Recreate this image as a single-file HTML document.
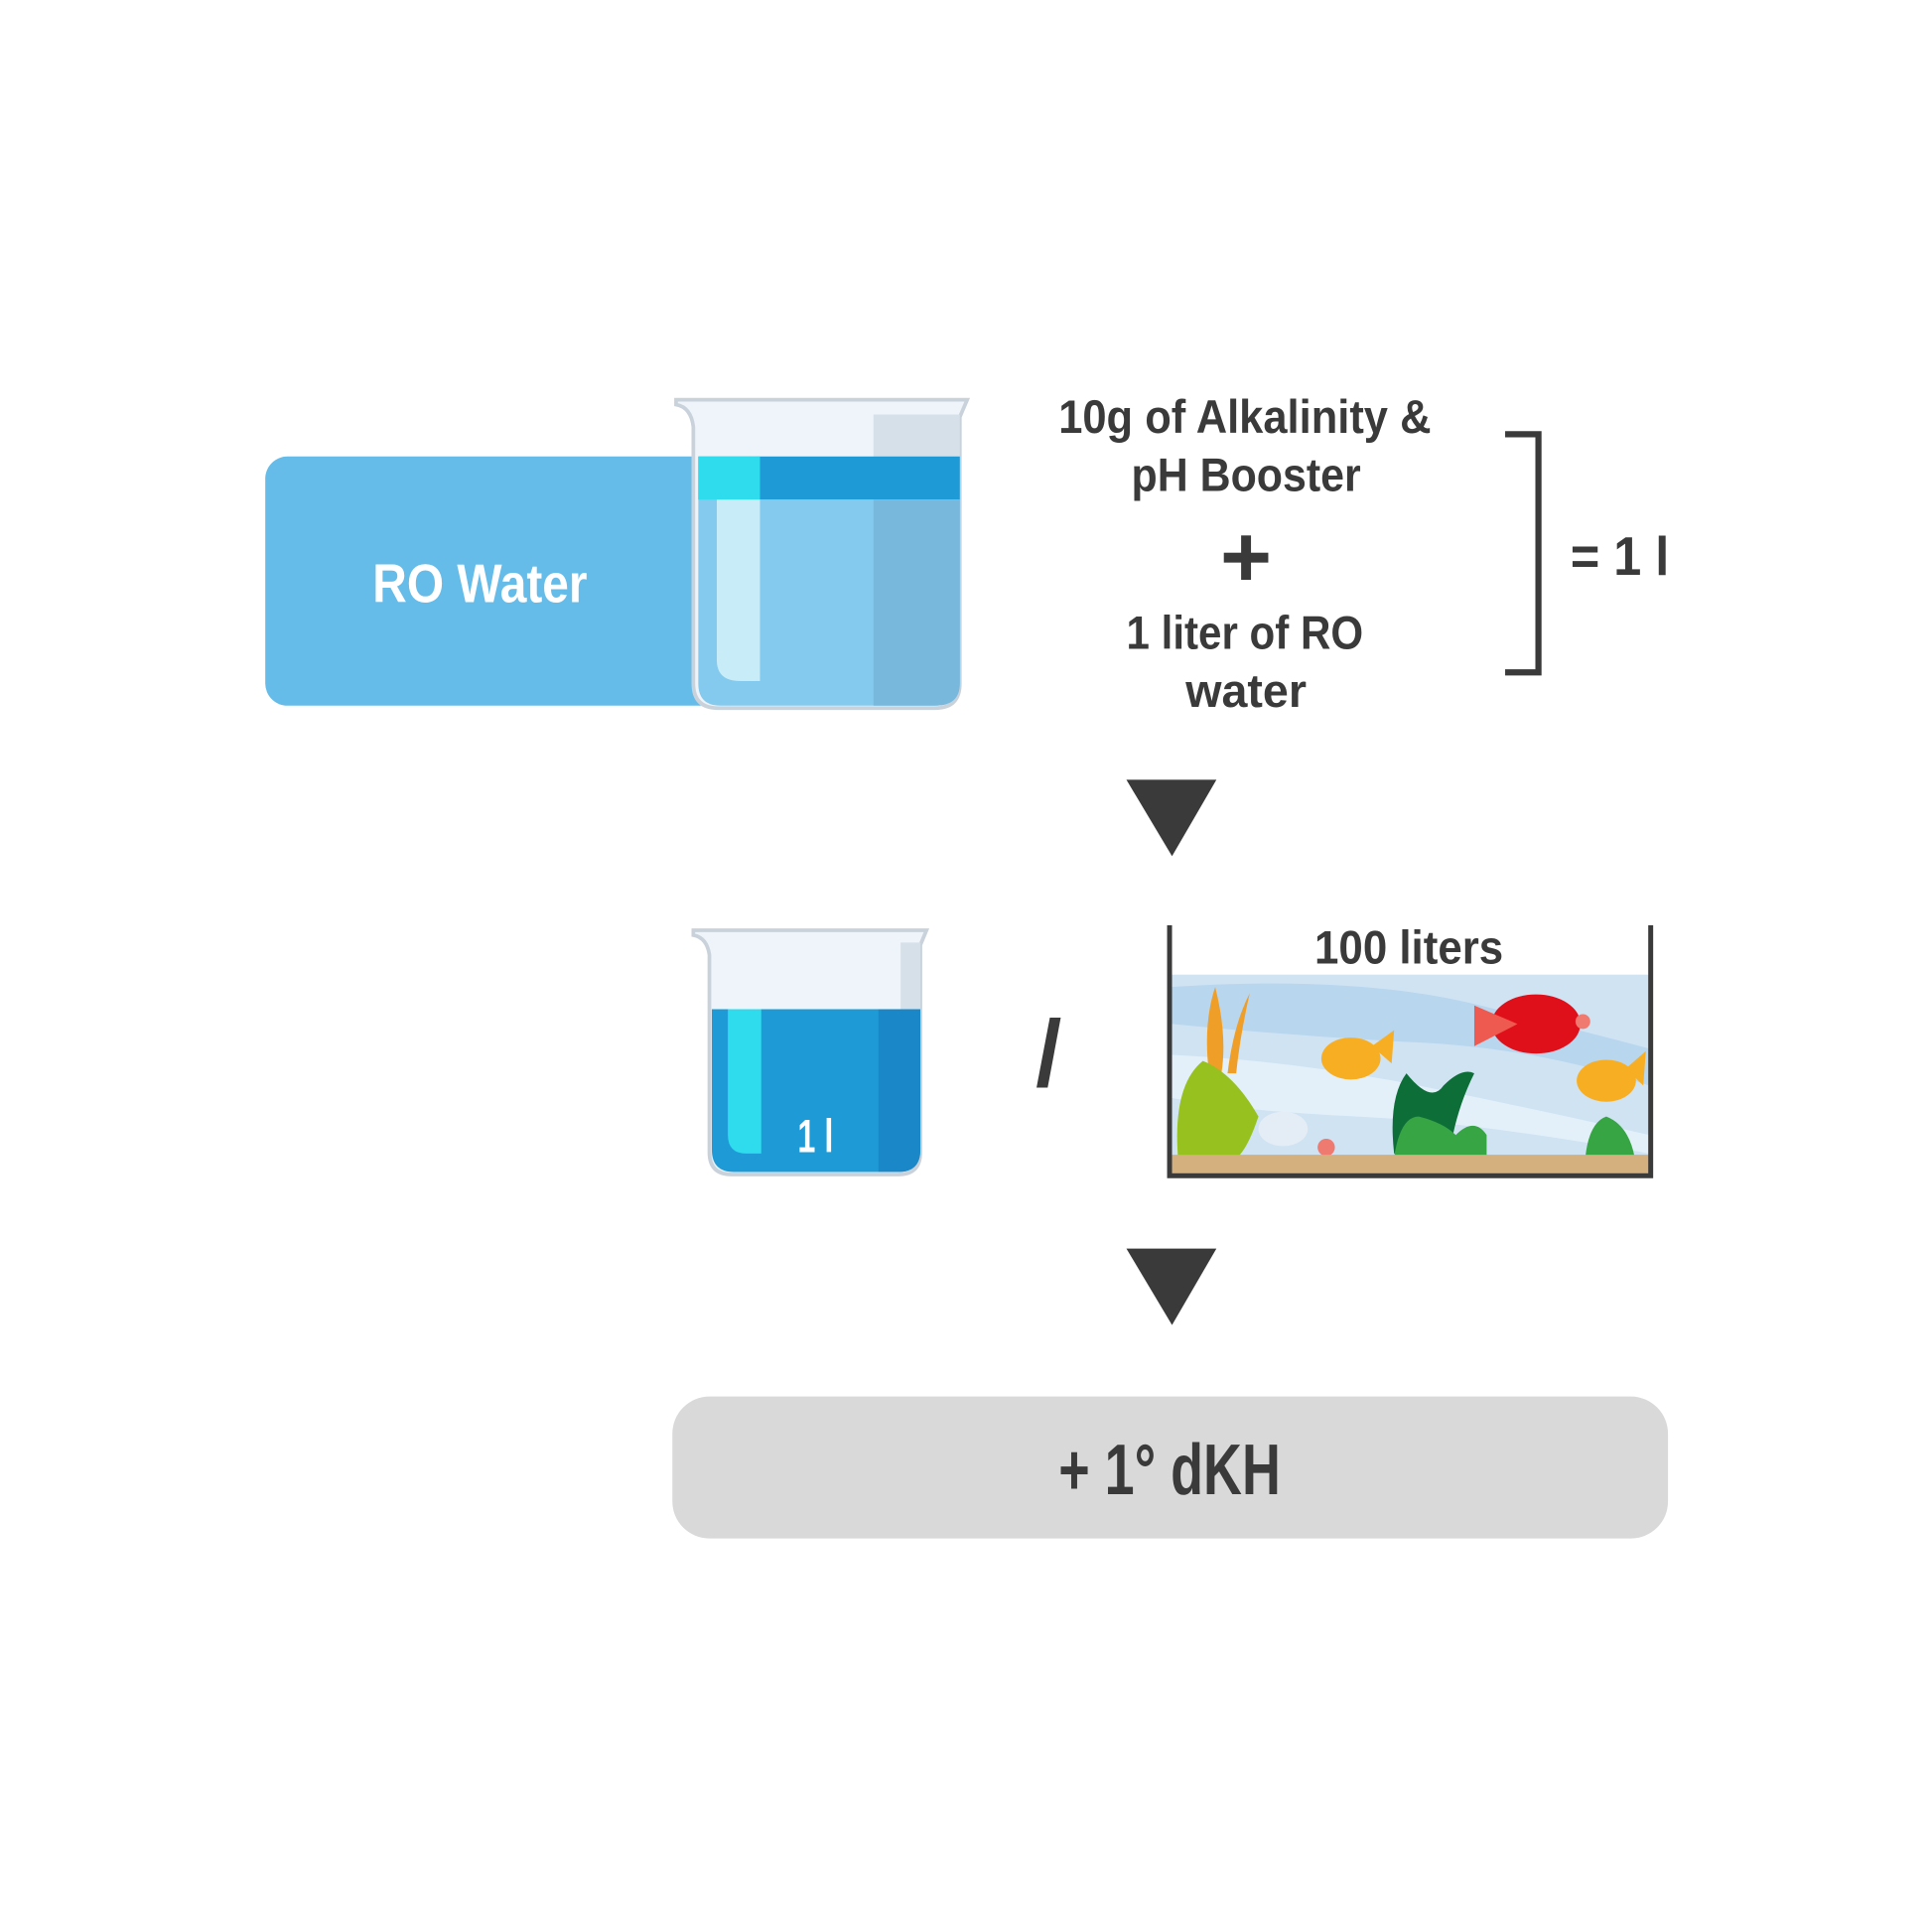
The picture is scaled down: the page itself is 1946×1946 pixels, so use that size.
<!DOCTYPE html>
<html><head><meta charset="utf-8"><style>
html,body{margin:0;padding:0;background:#fff;}
svg{display:block}
text{font-family:"Liberation Sans",sans-serif;font-weight:bold;}
</style></head><body>
<svg width="1946" height="1946" viewBox="0 0 1566 1566" xmlns="http://www.w3.org/2000/svg">
<rect width="1566" height="1566" fill="#fff"/>
<!-- RO water box -->
<rect x="215" y="370" width="400" height="202" rx="18" fill="#66bce9"/>
<text x="389" y="488" font-size="44" fill="#fff" text-anchor="middle" textLength="174" lengthAdjust="spacingAndGlyphs">RO Water</text>
<!-- beaker 1 -->
<path d="M548 324 H784 L778 338 V554 Q778 574 758 574 H582 Q562 574 562 554 V346 Q560 330 548 328 Z" fill="#eef4f9" stroke="#c9d2da" stroke-width="3"/>
<rect x="708" y="336" width="70" height="36" fill="#d6e0e8"/>
<rect x="566" y="370" width="212" height="35" fill="#1e9bd7"/>
<rect x="566" y="370" width="50" height="35" fill="#2fdcee"/>
<path d="M566 405 H778 V554 Q778 572 758 572 H584 Q566 572 566 554 Z" fill="#84c9ee"/>
<path d="M708 405 H778 V554 Q778 572 758 572 H708 Z" fill="#78b8dd"/>
<path d="M581 405 H616 V552 H600 Q581 552 581 535 Z" fill="#c8ecf8"/>
<!-- text -->
<g fill="#3a3a3a" font-size="38" text-anchor="middle">
<text x="1009" y="351" textLength="302" lengthAdjust="spacingAndGlyphs">10g of Alkalinity &amp;</text>
<text x="1010" y="398" textLength="186" lengthAdjust="spacingAndGlyphs">pH Booster</text>
<text x="1009" y="526" textLength="192" lengthAdjust="spacingAndGlyphs">1 liter of RO</text>
<text x="1010" y="573" textLength="98" lengthAdjust="spacingAndGlyphs">water</text>
</g>
<rect x="992" y="448" width="36" height="8" fill="#3a3a3a"/>
<rect x="1006" y="434" width="8" height="36" fill="#3a3a3a"/>
<path d="M1220 352 H1247 V545 H1220" fill="none" stroke="#3a3a3a" stroke-width="5"/>
<text x="1313" y="466" font-size="44" fill="#3a3a3a" text-anchor="middle" textLength="80" lengthAdjust="spacingAndGlyphs">= 1 l</text>
<!-- arrows -->
<polygon points="913,632 986,632 950,694" fill="#3a3a3a"/>
<polygon points="913,1012 986,1012 950,1074" fill="#3a3a3a"/>
<!-- beaker 2 -->
<path d="M562 754 H751 L746 766 V934 Q746 952 728 952 H593 Q575 952 575 934 V774 Q573 760 562 758 Z" fill="#eef4f9" stroke="#c9d2da" stroke-width="3"/>
<rect x="730" y="764" width="16" height="56" fill="#d6e0e8"/>
<path d="M577 818 H746 V932 Q746 950 728 950 H595 Q577 950 577 932 Z" fill="#1e9bd7"/>
<path d="M712 818 H746 V932 Q746 950 728 950 H712 Z" fill="#1a88c8"/>
<path d="M590 818 H617 V935 H605 Q590 935 590 920 Z" fill="#2fdcee"/>
<text x="661" y="934" font-size="38" fill="#fff" text-anchor="middle" textLength="29" lengthAdjust="spacingAndGlyphs">1 l</text>
<text x="850" y="880" font-size="76" fill="#3a3a3a" text-anchor="middle">/</text>
<!-- aquarium -->
<rect x="950" y="790" width="387" height="162" fill="#cfe3f3"/>
<path d="M950 800 Q1100 790 1200 815 T1337 850 V880 Q1250 850 1150 845 T950 830 Z" fill="#b8d6ee"/>
<path d="M950 855 Q1050 860 1150 880 T1337 920 V935 Q1200 910 1100 905 T950 890 Z" fill="#e3f0fa"/>
<path d="M980 870 Q975 830 985 800 Q995 840 990 870 Z M995 870 Q1000 830 1013 805 Q1005 840 1002 870 Z" fill="#ef9e27"/>
<path d="M955 940 Q950 880 975 860 Q1000 870 1020 905 Q1010 935 1000 940 Z" fill="#97c11f"/>
<path d="M1130 935 Q1125 890 1140 870 Q1160 895 1170 880 Q1185 865 1195 870 Q1180 900 1175 935 Z" fill="#0d6f37"/>
<path d="M1130 938 Q1135 905 1150 905 Q1170 910 1180 920 Q1195 905 1205 920 L1205 938 Z" fill="#37a544"/>
<path d="M1285 938 Q1288 910 1302 905 Q1320 912 1325 938 Z" fill="#37a544"/>
<circle cx="1075" cy="930" r="7" fill="#ee7a70"/>
<ellipse cx="1040" cy="915" rx="20" ry="14" fill="#e4edf5"/>
<rect x="950" y="936" width="387" height="15" fill="#d4b07f"/>
<!-- fish -->
<g fill="#f8ae22"><ellipse cx="1095" cy="858" rx="24" ry="17"/><path d="M1112 848 L1130 835 L1128 862 Z"/><ellipse cx="1302" cy="876" rx="24" ry="17"/><path d="M1318 866 L1334 852 L1332 880 Z"/></g>
<g fill="#e0101b"><ellipse cx="1245" cy="830" rx="36" ry="24"/><path d="M1230 830 L1195 815 L1195 848 Z" fill="#ee5a50"/><circle cx="1283" cy="828" r="6" fill="#f07a70"/></g>
<path d="M948 750 V953 H1338 V750" fill="none" stroke="#3a3a3a" stroke-width="4"/>
<text x="1142" y="781" font-size="38" fill="#3a3a3a" text-anchor="middle" textLength="153" lengthAdjust="spacingAndGlyphs">100 liters</text>
<!-- result -->
<rect x="545" y="1132" width="807" height="115" rx="30" fill="#d9d9d9"/>
<text x="948" y="1211" font-size="58" fill="#3a3a3a" text-anchor="middle" textLength="180" lengthAdjust="spacingAndGlyphs">+ 1° dKH</text>
</svg>
</body></html>
